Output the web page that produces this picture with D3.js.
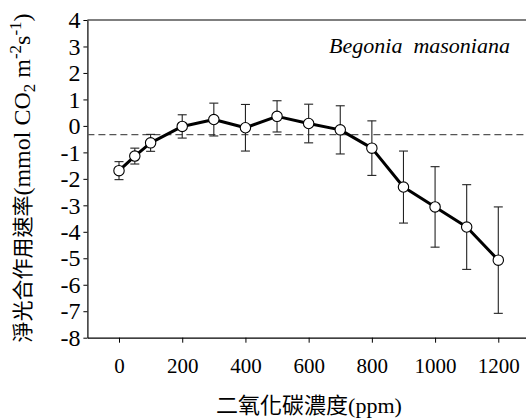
<!DOCTYPE html>
<html>
<head>
<meta charset="utf-8">
<script src="https://cdn.jsdelivr.net/npm/d3@7"></script>
<style>
  body { margin: 0; background: #fff; }
</style>
</head>
<body>
<div id="chart"></div>
<script>
// data
var co2 = [0, 50, 100, 200, 300, 400, 500, 600, 700, 800, 900, 1000, 1100, 1200];
var rate = [-1.69, -1.14, -0.64, -0.02, 0.24, -0.07, 0.36, 0.09, -0.15, -0.84, -2.31, -3.06, -3.82, -5.07];
var err = [0.34, 0.30, 0.32, 0.44, 0.62, 0.88, 0.59, 0.73, 0.91, 1.03, 1.36, 1.52, 1.60, 2.01];
var xTicks = [0, 200, 400, 600, 800, 1000, 1200];
var yTicks = [4, 3, 2, 1, 0, -1, -2, -3, -4, -5, -6, -7, -8];
var refLine = -0.33;
var species = "Begonia  masoniana";

var W = 526, H = 419;
var serif = "Liberation Serif";
var cjk = "Liberation Serif, Noto Sans CJK TC";

var x = d3.scaleLinear().domain([-100, 1300]).range([87.4, 529.9]);
var y = d3.scaleLinear().domain([-8, 4]).range([337.7, 20]);

var svg = d3.select("#chart").append("svg")
    .attr("width", W)
    .attr("height", H)
    .attr("font-family", serif);

// frame top line
svg.append("line")
    .attr("x1", x(-100)).attr("x2", W)
    .attr("y1", y(4)).attr("y2", y(4))
    .attr("stroke", "#000").attr("stroke-width", 1.2);

// x axis
var xAxis = svg.append("g")
    .attr("transform", "translate(0," + y(-8) + ")")
    .call(d3.axisBottom(x).tickValues(xTicks).tickSize(5).tickSizeOuter(0).tickPadding(15)
      .tickFormat(d3.format("d")))
    .attr("font-family", serif)
    .attr("font-size", 21);
xAxis.select(".domain").attr("stroke-width", 1.2);

// y axis
var yAxis = svg.append("g")
    .attr("transform", "translate(" + x(-100) + ",0)")
    .call(d3.axisLeft(y).tickValues(yTicks).tickSize(4).tickSizeOuter(0).tickPadding(3)
      .tickFormat(function(d) { return d < 0 ? "-" + Math.abs(d) : d; }))
    .attr("font-family", serif)
    .attr("font-size", 24);
yAxis.select(".domain").attr("stroke-width", 1.2);

// dashed reference line
svg.append("line")
    .attr("x1", x(-100)).attr("x2", W)
    .attr("y1", y(refLine)).attr("y2", y(refLine))
    .attr("stroke", "#555")
    .attr("stroke-width", 1.3)
    .attr("stroke-dasharray", "7,4");

var pts = co2.map(function(c, i) { return {c: c, v: rate[i], e: err[i]}; });

// error bars
var eb = svg.append("g").attr("stroke", "#222").attr("stroke-width", 1.1);
eb.selectAll(".v").data(pts).enter().append("line")
    .attr("x1", function(d) { return x(d.c); })
    .attr("x2", function(d) { return x(d.c); })
    .attr("y1", function(d) { return y(d.v + d.e); })
    .attr("y2", function(d) { return y(d.v - d.e); });
eb.selectAll(".t").data(pts).enter().append("line")
    .attr("x1", function(d) { return x(d.c) - 4.5; })
    .attr("x2", function(d) { return x(d.c) + 4.5; })
    .attr("y1", function(d) { return y(d.v + d.e); })
    .attr("y2", function(d) { return y(d.v + d.e); });
eb.selectAll(".b").data(pts).enter().append("line")
    .attr("x1", function(d) { return x(d.c) - 4.5; })
    .attr("x2", function(d) { return x(d.c) + 4.5; })
    .attr("y1", function(d) { return y(d.v - d.e); })
    .attr("y2", function(d) { return y(d.v - d.e); });

// line
svg.append("path")
    .datum(pts)
    .attr("fill", "none")
    .attr("stroke", "#000")
    .attr("stroke-width", 3)
    .attr("stroke-linejoin", "round")
    .attr("d", d3.line().x(function(d) { return x(d.c); }).y(function(d) { return y(d.v); }));

// markers
svg.selectAll(".dot").data(pts).enter().append("circle")
    .attr("cx", function(d) { return x(d.c); })
    .attr("cy", function(d) { return y(d.v); })
    .attr("r", 5.2)
    .attr("fill", "#fff")
    .attr("stroke", "#000")
    .attr("stroke-width", 1.1);

// species label
svg.append("text")
    .attr("font-family", serif)
    .attr("x", 510).attr("y", 53)
    .attr("text-anchor", "end")
    .attr("font-size", 22)
    .attr("font-style", "italic")
    .style("white-space", "pre")
    .text(species);

// x title
svg.append("text")
    .attr("font-family", cjk)
    .attr("x", 309).attr("y", 413)
    .attr("text-anchor", "middle")
    .attr("font-size", 22)
    .text("二氧化碳濃度(ppm)");

// y title
var yt = svg.append("text")
    .attr("font-family", cjk)
    .attr("text-anchor", "middle")
    .attr("font-size", 24)
    .attr("transform", "translate(30,178) rotate(-90)");
yt.append("tspan").attr("font-size", 21).text("淨光合作用速率");
yt.append("tspan").text("(mmol CO");
yt.append("tspan").attr("font-size", 17).attr("dy", 5).text("2");
yt.append("tspan").attr("dy", -5).text(" m");
yt.append("tspan").attr("font-size", 17).attr("dy", -9).text("-2");
yt.append("tspan").attr("dy", 9).text("s");
yt.append("tspan").attr("font-size", 17).attr("dy", -9).text("-1");
yt.append("tspan").attr("dy", 9).text(")");
</script>
</body>
</html>
